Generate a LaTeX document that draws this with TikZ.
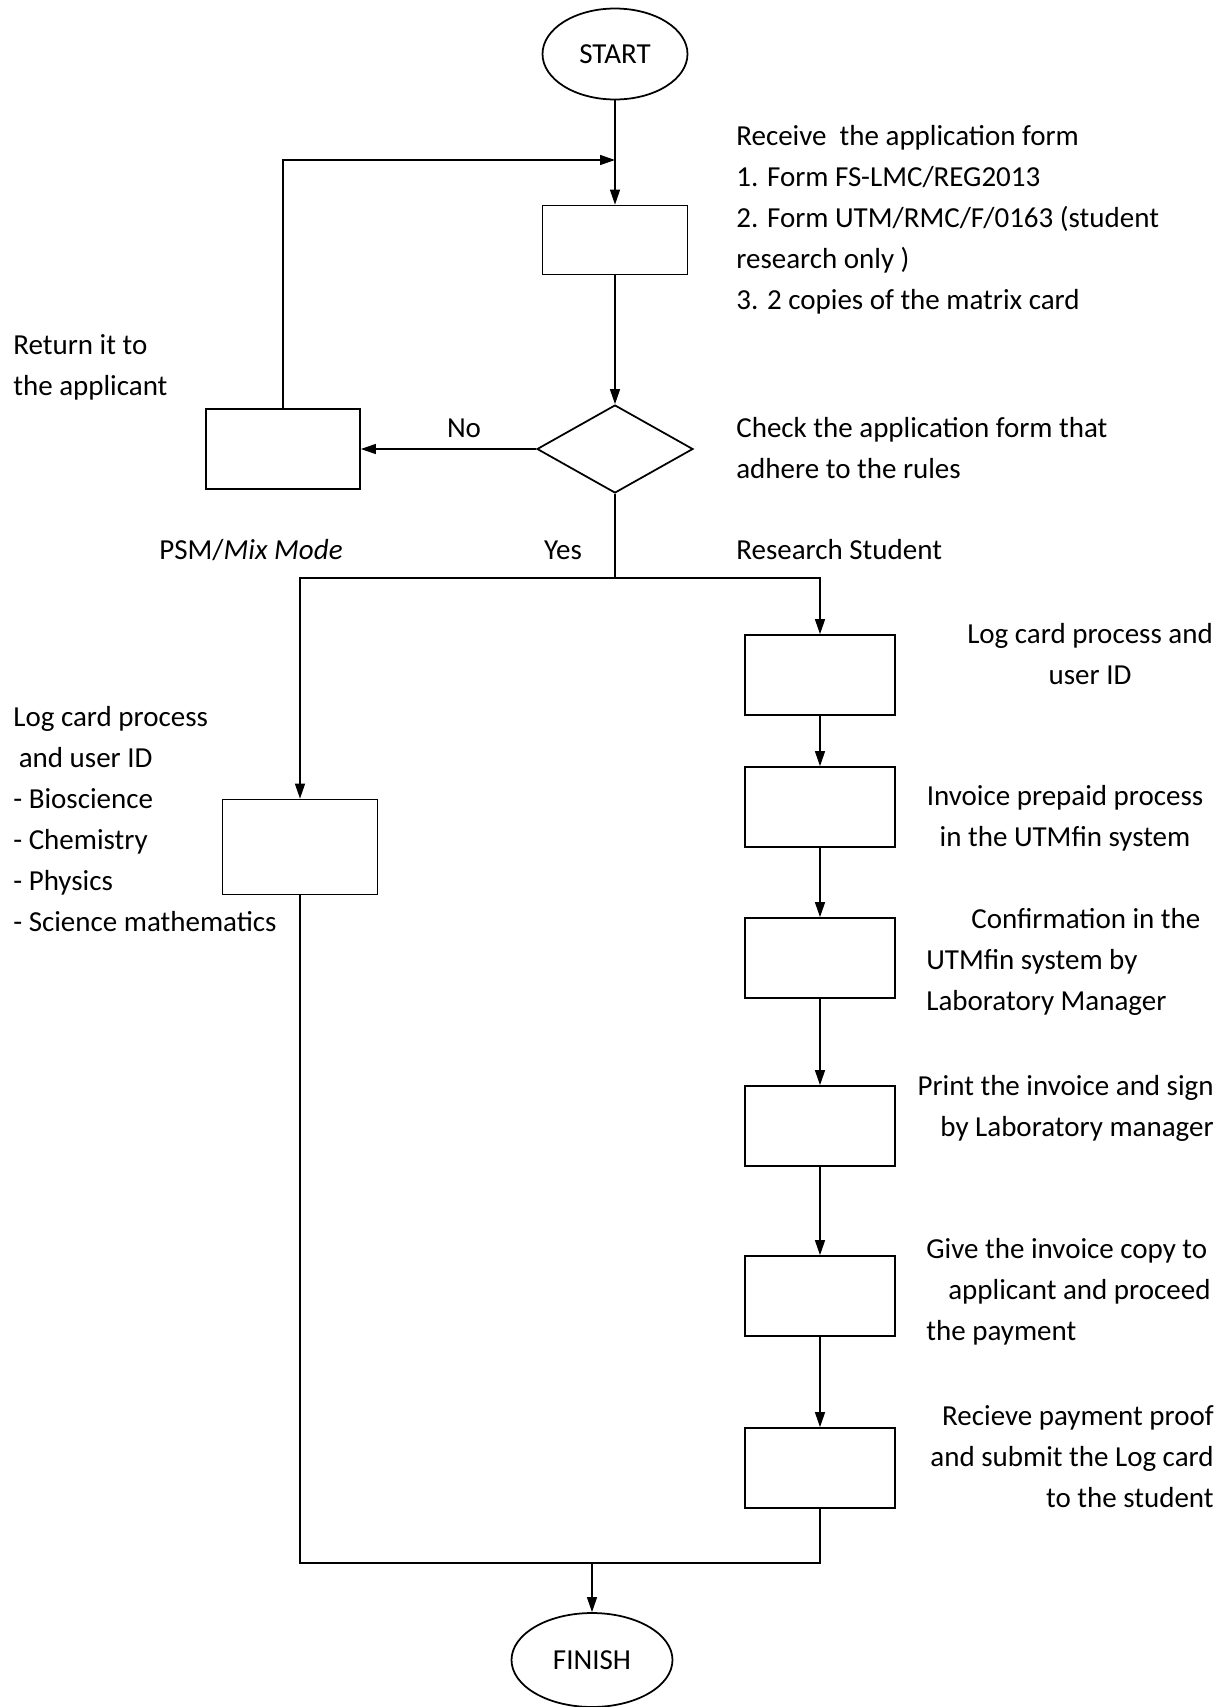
\documentclass[tikz,border=0pt]{standalone}
\usepackage{fontspec}
\setmainfont{Carlito}
\usetikzlibrary{
    shapes.geometric,
    arrows.meta,
    positioning
}

\begin{document}
\begin{tikzpicture}[x=0.02cm, y=0.02cm,
    font=\fontsize{16.5}{23.3}\selectfont,
    process/.style={draw, line width=1pt, minimum width=3cm, minimum height=1.6cm, inner sep=0},
    decision/.style={draw, diamond, line width=1pt, minimum width=3.12cm, minimum height=1.76cm, inner sep=0},
    terminal/.style={draw, ellipse, line width=1pt, inner sep=0},
    note/.style={inner sep=0, align=left},
    arr/.style={-{Triangle[length=0.3cm, width=0.2cm]}, line width=0.8pt}
]
    \useasboundingbox (0, 0) rectangle (1228, -1707);
    % main column
    \node[terminal, minimum width=2.9cm, minimum height=1.82cm] (start) at (615, -54) {START};
    \node[process, minimum width=2.9cm, minimum height=1.38cm] (recv) at (615, -240) {};
    \node[decision] (check) at (615, -449) {};
    \node[process, minimum width=3.08cm] (ret) at (283, -449) {};
    \coordinate (loopin) at (615, -160);
    \coordinate (split) at (615, -578);
    % research student column
    \node[process] (logr) at (820, -675) {};
    \node[process] (inv) at (820, -807) {};
    \node[process] (conf) at (820, -958) {};
    \node[process] (print) at (820, -1126) {};
    \node[process] (give) at (820, -1296) {};
    \node[process] (paid) at (820, -1468) {};
    % psm / mix mode column
    \node[process, minimum width=3.1cm, minimum height=1.9cm] (logl) at (300, -847) {};
    \coordinate (join) at (592, -1563);
    \node[terminal, minimum width=3.22cm, minimum height=1.88cm] (finish) at (592, -1660) {FINISH};

    % texts
    \node[note, anchor=west] (recvtxt) at (736, -220) {Receive\ \ the application form\\1. Form FS-LMC/REG2013\\2. Form UTM/RMC/F/0163 (student\\research only )\\3. 2 copies of the matrix card};
    \node[note, anchor=west] (checktxt) at (736, -448) {Check the application form that\\adhere to the rules};
    \node[note, anchor=west] (rettxt) at (13, -367) {Return it to\\the applicant};
    \node[inner sep=0] (no) at (464, -428) {No};
    \node[inner sep=0] (psm) at (251, -550) {PSM/\textit{Mix Mode}};
    \node[inner sep=0] (yes) at (563, -550) {Yes};
    \node[inner sep=0, anchor=west] (research) at (736, -550) {Research Student};
    \node[note, anchor=west] (logltxt) at (13, -819) {Log card process\\\hspace*{0.11cm}and user ID\\- Bioscience\\- Chemistry\\- Physics\\- Science mathematics};
    \node[note, align=center] (logrtxt) at (1090, -654) {Log card process and\\user ID};
    \node[note, align=center] (invtxt) at (1065, -818) {Invoice prepaid process\\in the UTMfin system};
    \node[note, anchor=west] (conftxt) at (926, -962) {\hspace*{0.9cm}Confirmation in the\\UTMfin system by\\Laboratory Manager};
    \node[note, align=right, anchor=east] (printtxt) at (1214, -1108) {Print the invoice and sign\\by Laboratory manager};
    \node[note, anchor=west] (givetxt) at (926, -1292) {Give the invoice copy to\\\hspace*{0.44cm}applicant and proceed\\the payment};
    \node[note, align=right, anchor=east] (paidtxt) at (1214, -1457) {Recieve payment proof\\and submit the Log card\\to the student};

    % connectors
    \draw[arr] (start) -- (recv);
    \draw[arr] (recv) -- (check);
    \draw[arr] (check) -- (ret);
    \draw[arr] (ret.north) |- (loopin);
    \draw[line width=0.8pt] (check.south) -- (split);
    \draw[arr] (split) -| (logl.north);
    \draw[arr] (split) -| (logr.north);
    \draw
    (logr) edge[arr] (inv)
    (inv) edge[arr] (conf)
    (conf) edge[arr] (print)
    (print) edge[arr] (give)
    (give) edge[arr] (paid);
    \draw[line width=0.8pt] (logl.south) |- (join) -| (paid.south);
    \draw[arr] (join) -- (finish);
\end{tikzpicture}
\end{document}
